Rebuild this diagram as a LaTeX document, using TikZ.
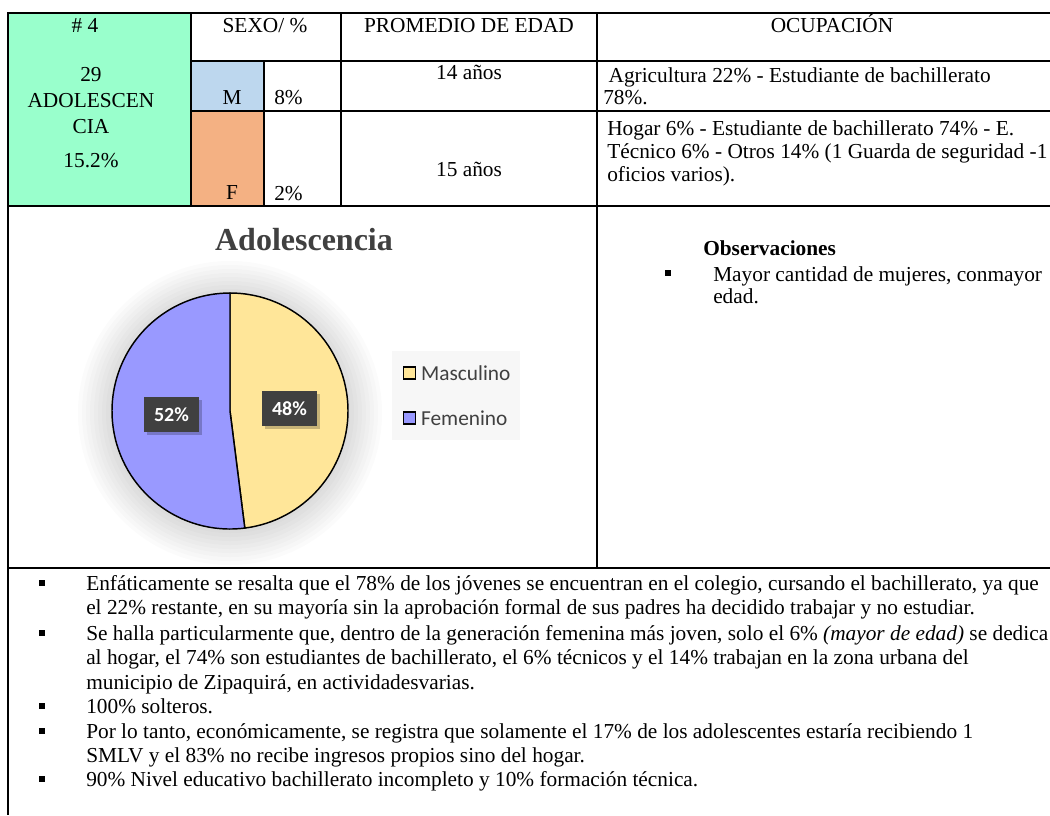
\documentclass[tikz,border=0pt]{standalone}
\usepackage{fontspec}
\setmainfont{Liberation Serif}
\newfontfamily\chartfont{Carlito}
\usetikzlibrary{positioning}

\definecolor{mint}{HTML}{99FFCC}
\definecolor{mblue}{HTML}{BDD7EE}
\definecolor{fpeach}{HTML}{F4B183}
\definecolor{mascyel}{HTML}{FFE699}
\definecolor{femblue}{HTML}{9999FF}
\definecolor{darklbl}{HTML}{404040}

\tikzset{
  txt/.style={font=\fontsize{16}{17}\selectfont, inner sep=0pt},
  listtxt/.style={font=\fontsize{16}{18.4}\selectfont, inner sep=0pt, align=left, anchor=north west},
  bul/.style={fill=black, inner sep=0pt, minimum size=4.5pt},
  pctbox/.style={fill=darklbl, text=white, font=\chartfont\bfseries\fontsize{15}{15}\selectfont,
    minimum width=41pt, minimum height=26pt, inner sep=0pt},
  legtxt/.style={font=\chartfont\fontsize{16}{16}\selectfont, text=darklbl, inner sep=0pt, anchor=mid west},
  legsq/.style={draw=black, line width=1pt, minimum size=9pt, inner sep=0pt}
}

\begin{document}
\begin{tikzpicture}[x=0.75pt, y=-0.75pt]
      \useasboundingbox (0,0) rectangle (1050,815);

      % Cell fills
      \fill[mint] (8,13) rectangle (191,206);
      \fill[mblue] (191,61) rectangle (264,111);
      \fill[fpeach] (191,111) rectangle (264,206);

      % Table lines
      \draw[line width=1.5pt] (7,13) -- (1050,13);
      \draw[line width=1.5pt] (8,13) -- (8,815);
      \draw[line width=1.2pt] (191,61) -- (1050,61);
      \draw[line width=1.2pt] (191,111) -- (1050,111);
      \draw[line width=1.5pt] (8,206) -- (1050,206);
      \draw[line width=1.5pt] (8,568) -- (1050,568);
      \draw[line width=1.2pt] (191,13) -- (191,206);
      \draw[line width=1.2pt] (264,61) -- (264,206);
      \draw[line width=1.2pt] (341,13) -- (341,206);
      \draw[line width=1.5pt] (597,13) -- (597,568);

      % Header row
      \node[txt, anchor=mid] (hnum) at (85,29) {\# 4};
      \node[txt, anchor=mid] (hsexo) at (265,29) {SEXO/ \%};
      \node[txt, anchor=mid] (hedad) at (469,29) {PROMEDIO DE EDAD};
      \node[txt, anchor=mid] (hocup) at (832,29) {OCUPACIÓN};

      % Group cell
      \node[txt, align=center, anchor=north, font=\fontsize{16}{19.5}\selectfont] (grupo) at (91,67)
        {29\\ADOLESCEN\\CIA\\[6pt]15.2\%};

      % Sex rows
      \node[txt, anchor=mid] (sexm) at (232,101) {M};
      \node[txt, anchor=mid west] (pctm) at (274,101) {8\%};
      \node[txt, anchor=mid] (sexf) at (232,196) {F};
      \node[txt, anchor=mid west] (pctf) at (274,197) {2\%};

      % Ages
      \node[txt, anchor=mid] (edadm) at (469,76) {14 años};
      \node[txt, anchor=mid] (edadf) at (469,173) {15 años};

      % Occupations
      \node[txt, align=left, anchor=north west, font=\fontsize{16}{16.5}\selectfont] (ocupm) at (603,67)
        {\ Agricultura 22\% - Estudiante de bachillerato\\78\%.};
      \node[txt, align=left, anchor=north west, font=\fontsize{16}{17.3}\selectfont] (ocupf) at (607,120)
        {Hogar 6\% - Estudiante de bachillerato 74\% - E.\\Técnico 6\% - Otros 14\% (1 Guarda de seguridad -1\\oficios varios).};

      % Pie glow
      \foreach \r in {152,148,...,118}
        \fill[black, opacity=0.015] (230,413) circle (\r);

      % Pie slices
      \coordinate (pc) at (230,411);
      \filldraw[fill=mascyel, line width=1.1pt] (pc) -- ++(-90:118) arc[start angle=-90, end angle=82.8, radius=118] -- cycle;
      \filldraw[fill=femblue, line width=1.1pt] (pc) -- ++(82.8:118) arc[start angle=82.8, end angle=270, radius=118] -- cycle;

      % Chart title
      \node[font=\bfseries\fontsize{24}{24}\selectfont, text=darklbl, inner sep=0pt] (titulo) at (304,240) {Adolescencia};

      % Data labels
      \fill[black, opacity=0.22] (265,394) rectangle (320,429);
      \node[pctbox] (lbl48) at (289.5,408.5) {48\%};
      \fill[black, opacity=0.22] (147,400) rectangle (202,435);
      \node[pctbox] (lbl52) at (171.5,414.5) {52\%};

      % Legend
      \fill[gray!6] (392,351) rectangle (520,440);
      \node[legsq, fill=mascyel] (sqm) at (409.5,373) {};
      \node[legtxt, right=3.5pt of sqm] (legm) {Masculino};
      \node[legsq, fill=femblue] (sqf) at (409.5,418) {};
      \node[legtxt, right=3.5pt of sqf] (legf) {Femenino};

      % Observations
      \node[txt, font=\bfseries\fontsize{16}{17}\selectfont, anchor=north west] (obstit) at (703,240) {Observaciones};
      \node[bul] (bobs) at (668,273) {};
      \node[txt, align=left, anchor=north west, font=\fontsize{16}{16.5}\selectfont] (obstxt) at (713,266)
        {Mayor cantidad de mujeres, conmayor\\edad.};

      % Bottom list
      \node[bul] (b1) at (42,583) {};
      \node[listtxt] (item1) at (86,575)
        {Enfáticamente se resalta que el 78\% de los jóvenes se encuentran en el colegio, cursando el bachillerato, ya que\\
         el 22\% restante, en su mayoría sin la aprobación formal de sus padres ha decidido trabajar y no estudiar.};
      \node[bul] (b2) at (42,633) {};
      \node[listtxt] (item2) at (86,625)
        {Se halla particularmente que, dentro de la generación femenina más joven, solo el 6\% \textit{(mayor de edad)} se dedica\\
         al hogar, el 74\% son estudiantes de bachillerato, el 6\%  técnicos y el 14\% trabajan en la zona urbana del\\
         municipio de Zipaquirá, en actividadesvarias.};
      \node[bul] (b3) at (42,706) {};
      \node[listtxt] (item3) at (86,698) {100\% solteros.};
      \node[bul] (b4) at (42,731) {};
      \node[listtxt] (item4) at (86,723)
        {Por lo tanto, económicamente, se registra que solamente el 17\% de los adolescentes estaría recibiendo 1\\
         SMLV y el 83\% no recibe ingresos propios sino del hogar.};
      \node[bul] (b5) at (42,779) {};
      \node[listtxt] (item5) at (86,771) {90\% Nivel educativo bachillerato incompleto y 10\%  formación técnica.};
\end{tikzpicture}
\end{document}
